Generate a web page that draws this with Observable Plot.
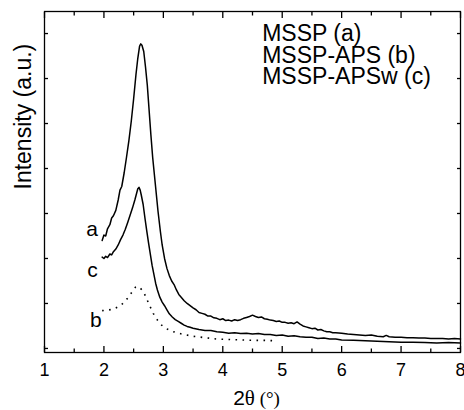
<!DOCTYPE html>
<html><head><meta charset="utf-8">
<script src="https://cdn.jsdelivr.net/npm/d3@7"></script>
<script src="https://cdn.jsdelivr.net/npm/@observablehq/plot@0.6"></script>
<style>
body{margin:0;background:#fff}
#chart{width:464px;height:410px}
</style>
</head><body><div id="chart"></div>
<script>
// ---- data ----
const xMajorTicks = [1, 2, 3, 4, 5, 6, 7, 8];
const xMinorTicks = [1.5, 2.5, 3.5, 4.5, 5.5, 6.5, 7.5];
const yTicks = [0, 1, 2, 3, 4, 5, 6, 7];
const legendLines = ["MSSP (a)", "MSSP-APS (b)", "MSSP-APSw (c)"];
const xTitle = "2θ (°)";
const yTitle = "Intensity (a.u.)";

// curve a : MSSP
const thetaA = [1.97,2.00,2.03,2.06,2.10,2.13,2.16,2.20,2.24,2.27,2.30,2.34,2.38,2.42,2.46,2.50,2.54,2.57,2.60,2.62,2.64,2.67,2.70,2.73,2.76,2.79,2.82,2.85,2.88,2.91,2.95,2.98,3.02,3.06,3.10,3.14,3.18,3.22,3.26,3.30,3.35,3.40,3.45,3.50,3.55,3.60,3.65,3.70,3.75,3.80,3.85,3.90,3.95,4.00,4.05,4.10,4.15,4.20,4.25,4.30,4.35,4.40,4.45,4.50,4.55,4.60,4.65,4.70,4.75,4.80,4.85,4.90,4.95,5.00,5.05,5.10,5.15,5.20,5.25,5.30,5.35,5.40,5.45,5.50,5.55,5.60,5.65,5.70,5.75,5.80,5.85,5.90,6.00,6.10,6.20,6.30,6.40,6.50,6.60,6.70,6.75,6.80,6.90,7.00,7.10,7.20,7.30,7.40,7.50,7.60,7.70,7.80,7.90,8.00];
const intensityA = [2.40,2.52,2.50,2.66,2.75,2.90,2.95,3.07,3.30,3.52,3.60,3.90,4.25,4.62,5.05,5.55,6.10,6.45,6.72,6.77,6.74,6.60,6.25,5.85,5.30,4.75,4.25,3.85,3.45,3.05,2.60,2.30,2.00,1.78,1.62,1.50,1.42,1.30,1.20,1.14,1.06,1.00,0.95,0.90,0.86,0.80,0.78,0.76,0.72,0.72,0.68,0.67,0.64,0.66,0.62,0.63,0.61,0.64,0.62,0.64,0.67,0.69,0.71,0.74,0.71,0.69,0.70,0.66,0.65,0.63,0.62,0.60,0.61,0.58,0.58,0.56,0.57,0.55,0.59,0.54,0.50,0.48,0.46,0.44,0.45,0.41,0.42,0.39,0.37,0.37,0.35,0.35,0.34,0.32,0.31,0.30,0.29,0.30,0.27,0.26,0.29,0.26,0.25,0.25,0.24,0.24,0.23,0.23,0.22,0.22,0.22,0.21,0.22,0.21];

// curve c : MSSP-APSw
const thetaC = [1.97,2.00,2.03,2.06,2.10,2.13,2.16,2.20,2.24,2.28,2.32,2.36,2.40,2.44,2.48,2.52,2.55,2.57,2.59,2.61,2.63,2.66,2.69,2.72,2.75,2.78,2.81,2.84,2.87,2.90,2.94,2.98,3.02,3.06,3.10,3.15,3.20,3.25,3.30,3.35,3.40,3.45,3.50,3.60,3.70,3.80,3.90,4.00,4.10,4.20,4.30,4.40,4.50,4.60,4.70,4.80,4.90,5.00,5.10,5.20,5.30,5.40,5.50,5.60,5.70,5.80,5.90,6.00,6.20,6.40,6.60,6.80,7.00,7.20,7.40,7.60,7.80,8.00];
const intensityC = [2.03,2.00,2.05,2.02,2.10,2.08,2.15,2.21,2.30,2.42,2.52,2.65,2.80,2.96,3.12,3.30,3.45,3.55,3.58,3.52,3.40,3.20,2.90,2.62,2.35,2.10,1.85,1.65,1.45,1.30,1.14,1.03,0.95,0.86,0.77,0.70,0.64,0.60,0.56,0.52,0.49,0.47,0.45,0.42,0.40,0.40,0.37,0.36,0.34,0.35,0.33,0.34,0.32,0.33,0.31,0.31,0.29,0.30,0.27,0.28,0.26,0.25,0.25,0.22,0.23,0.21,0.21,0.19,0.18,0.17,0.16,0.15,0.14,0.14,0.13,0.12,0.13,0.12];

// curve b : MSSP-APS (dotted)
const thetaB = [1.97,2.05,2.15,2.25,2.32,2.40,2.47,2.53,2.57,2.62,2.67,2.72,2.77,2.83,2.90,2.97,3.05,3.15,3.25,3.35,3.50,3.70,3.90,4.10,4.30,4.50,4.70,4.90];
const intensityB = [0.84,0.85,0.87,0.93,1.00,1.12,1.25,1.36,1.38,1.33,1.25,1.10,0.95,0.78,0.63,0.52,0.44,0.38,0.34,0.31,0.27,0.24,0.21,0.20,0.19,0.18,0.18,0.17];

// ---- tables built from the arrays ----
const rowsA = thetaA.map((t, i) => ({theta: t, intensity: intensityA[i], sample: "a"}));
const rowsC = thetaC.map((t, i) => ({theta: t, intensity: intensityC[i], sample: "c"}));
const rowsB = thetaB.map((t, i) => ({theta: t, intensity: intensityB[i], sample: "b"}));
const solidRows = rowsA.concat(rowsC);

const blank = () => "";
const labelFont = 21;
const sans = "'Liberation Sans', Arial, sans-serif";
const serif = "'Liberation Serif', 'Times New Roman', serif";

const chart = Plot.plot({
  width: 464,
  height: 410,
  marginLeft: 44,
  marginRight: 4,
  marginTop: 11,
  marginBottom: 58,
  style: {fontFamily: sans, fontSize: "18px", color: "#000", background: "#fff"},
  x: {domain: [1, 8]},
  y: {domain: [-0.09, 7.49]},
  marks: [
    Plot.frame({stroke: "#000", strokeWidth: 1.3}),
    // x tick labels
    Plot.axisX({anchor: "bottom", ticks: xMajorTicks, tickFormat: (d) => String(d), tickSize: 0, tickPadding: 11, fontSize: 18, label: null}),
    // inward ticks
    Plot.axisX({anchor: "bottom", ticks: xMajorTicks, tickSize: -6, tickFormat: blank, label: null, strokeWidth: 1.3}),
    Plot.axisX({anchor: "bottom", ticks: xMinorTicks, tickSize: -3.5, tickFormat: blank, label: null, strokeWidth: 1.3}),
    Plot.axisX({anchor: "top", ticks: xMajorTicks, tickSize: -6, tickFormat: blank, label: null, strokeWidth: 1.3}),
    Plot.axisX({anchor: "top", ticks: xMinorTicks, tickSize: -3.5, tickFormat: blank, label: null, strokeWidth: 1.3}),
    Plot.axisY({anchor: "left", ticks: yTicks, tickSize: -4, tickFormat: blank, label: null, strokeWidth: 1.3}),
    Plot.axisY({anchor: "right", ticks: yTicks, tickSize: -4, tickFormat: blank, label: null, strokeWidth: 1.3}),
    // curves
    Plot.line(solidRows, {x: "theta", y: "intensity", z: "sample", stroke: "#000", strokeWidth: 1.5}),
    Plot.line(rowsB, {x: "theta", y: "intensity", stroke: "#000", strokeWidth: 1.6, strokeDasharray: "1.6,5.4", strokeLinecap: "butt"}),
    // curve letters next to each curve's first point
    Plot.text([rowsA[0]], {x: "theta", y: "intensity", text: "sample", dx: -10, dy: -11.3, fontSize: labelFont}),
    Plot.text([rowsC[0]], {x: "theta", y: "intensity", text: "sample", dx: -9.7, dy: 13.3, fontSize: labelFont}),
    Plot.text([rowsB[0]], {x: "theta", y: "intensity", text: "sample", dx: -6.4, dy: 9.7, fontSize: labelFont}),
    // legend block
    Plot.text([legendLines.join("\n")], {frameAnchor: "top-left", dx: 217.7, dy: 14, textAnchor: "start", lineAnchor: "top", lineHeight: 0.943, fontSize: 23}),
    // axis titles
    Plot.text([yTitle], {frameAnchor: "left", rotate: -90, dx: -20.4, dy: 7.5, fontSize: 23}),
    Plot.text([xTitle], {frameAnchor: "bottom", dx: 4, dy: 52, fontSize: 21})
  ]
});

document.getElementById("chart").appendChild(chart);

// style the x title: sans "2", serif theta and degree sign
d3.select(chart).selectAll("text").filter(function() { return this.textContent === xTitle; }).each(function() {
  const t = d3.select(this);
  t.text(null);
  t.append("tspan").style("font-family", sans).style("font-size", "21px").text("2");
  t.append("tspan").style("font-family", serif).style("font-size", "21px").text("θ");
  t.append("tspan").style("font-family", serif).style("font-size", "19px").text(" (°)");
});
</script>
</body></html>
